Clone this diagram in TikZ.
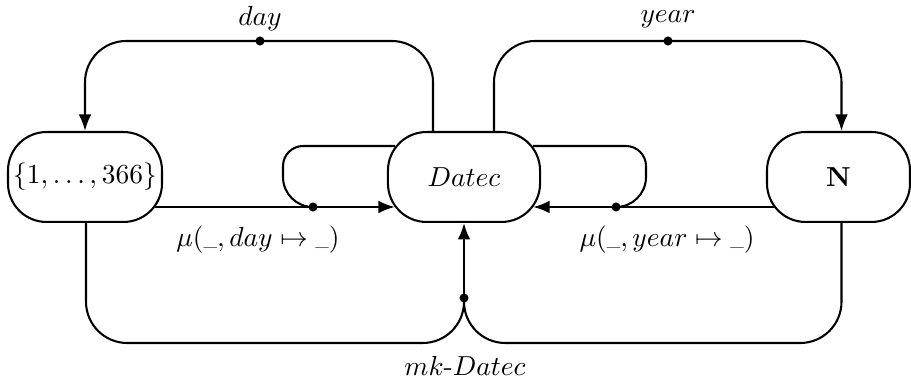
\documentclass[tikz,border=0pt]{standalone}
\usetikzlibrary{arrows.meta,calc}
\begin{document}
\begin{tikzpicture}[x=0.3636pt,y=-0.3636pt,
  box/.style={draw,line width=0.75pt,rounded corners=14pt,minimum height=32.7pt,inner sep=0pt},
  conn/.style={line width=0.75pt},
  arr/.style={conn,-{Latex[length=6pt,width=4.6pt]}},
  dot/.style={circle,fill,inner sep=0pt,minimum size=3.3pt},
  lbl/.style={inner sep=0pt}]
\useasboundingbox (0,0) rectangle (911,385);
\node[box,minimum width=56pt] (leftn) at (85,177) {$\{1,\ldots,366\}$};
\node[box,minimum width=55.3pt] (datec) at (464,177) {$Datec$};
\node[box,minimum width=52pt] (nn) at (838.5,177) {$\mathbf{N}$};
\coordinate (dday) at (260,41);
\coordinate (dyear) at (668,41);
\coordinate (dmu1) at (313,207);
\coordinate (dmu2) at (616,207);
\coordinate (dmk) at (464,298);
\coordinate (bot) at (464,343);
% day / year
\draw[arr,rounded corners=15pt] ($(datec.north)+(-31,0)$) |- (dday) -| (leftn.north);
\draw[arr,rounded corners=15pt] ($(datec.north)+(30,0)$) |- (dyear) -| ($(nn.north)+(3,0)$);
% mu day
\draw[arr] ($(leftn.east)+(-8,30)$) -- (dmu1) -- ($(datec.west)+(8,30)$);
\draw[conn] ($(datec.west)+(8,-31)$) [rounded corners=7.3pt] -- (283,146) [rounded corners=10.9pt] -- (283,207) -- (dmu1);
% mu year
\draw[arr] ($(nn.west)+(8,30)$) -- (dmu2) -- ($(datec.east)+(-8,30)$);
\draw[conn] ($(datec.east)+(-8,-31)$) [rounded corners=7.3pt] -- (646,146) [rounded corners=10.9pt] -- (646,207) -- (dmu2);
% mk-Datec
\draw[conn,rounded corners=15pt] ($(leftn.south)+(1,0)$) |- (bot) -- (dmk);
\draw[conn,rounded corners=15pt] ($(nn.south)+(3,0)$) |- (bot) -- (dmk);
\draw[arr] (dmk) -- (datec.south);
% dots
\node[dot] at (dday) {};
\node[dot] at (dyear) {};
\node[dot] at (dmu1) {};
\node[dot] at (dmu2) {};
\node[dot] at (dmk) {};
% labels
\node[lbl] (lday) at (260,19) {$day$};
\node[lbl] (lyear) at (668,19) {$year$};
\node[lbl] (lmu1) at (258,240) {$\mu(\mbox{\tiny\_}, day \mapsto \mbox{\tiny\_})$};
\node[lbl] (lmu2) at (667,240) {$\mu(\mbox{\tiny\_}, year \mapsto \mbox{\tiny\_})$};
\node[lbl] (lmk) at (465,366) {$mk\mbox{-}Datec$};
\end{tikzpicture}
\end{document}
